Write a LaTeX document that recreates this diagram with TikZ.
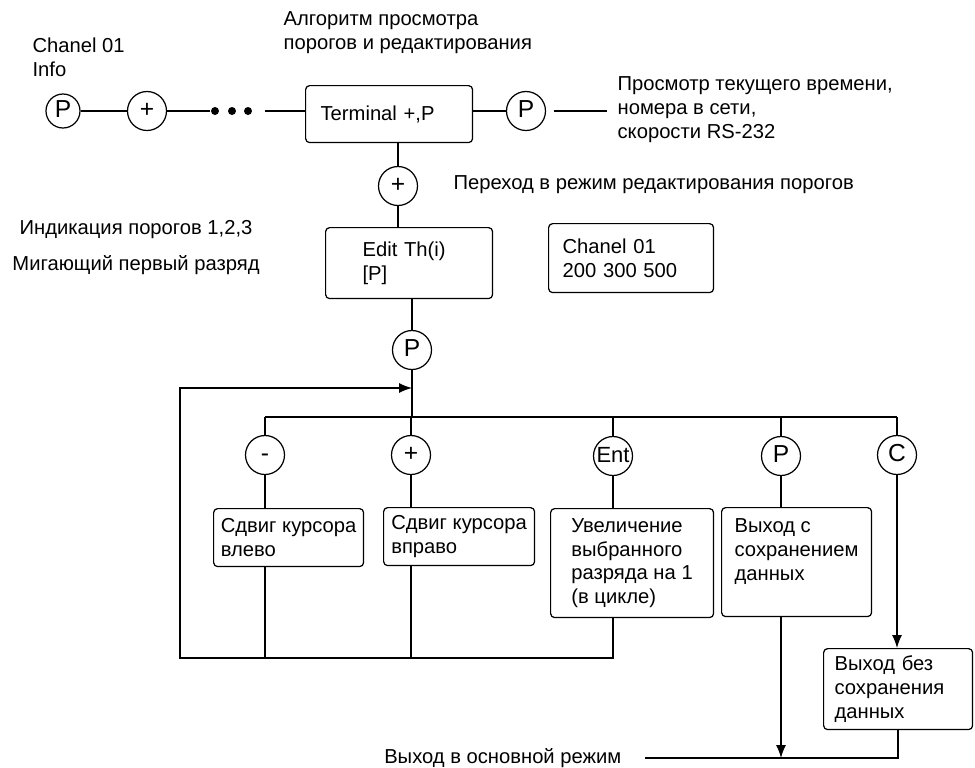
\documentclass[tikz,border=0pt]{standalone}
\usepackage{fontspec}
\setmainfont{Liberation Sans}
\usetikzlibrary{arrows.meta,positioning,calc}
\tikzset{
	btn/.style={draw,circle,inner sep=0pt,minimum size=0.78cm,font=\fontsize{14pt}{16pt}\selectfont,text height=0.72em,text depth=0pt},
	menubox/.style={draw,rounded corners=2.3pt,align=left,anchor=north west,inner ysep=0pt},
	lbl/.style={inner sep=0pt,align=left,anchor=north west},
	dot/.style={circle,fill,inner sep=0pt,minimum size=0.16cm},
	arr/.style={-{Latex[length=0.26cm,width=0.2cm]}},
}

\begin{document}
\begin{tikzpicture}[x=0.02cm,y=-0.02cm,line width=0.7pt,font=\fontsize{11.5pt}{13.6pt}\selectfont]
\useasboundingbox (0,0) rectangle (975,768);

% top row
\node[lbl] (lblChanel) at (32,37) {Chanel 01\\Info};
\node[lbl] (lblTitle) at (283,11) {Алгоритм просмотра\\порогов и редактирования};
\node[btn,minimum size=0.68cm] (cP1) at (63,111) {P};
\node[btn] (cPl1) at (147,111) {+};
\node[dot] (d1) at (215,111) {};
\node[dot] (d2) at (232,111) {};
\node[dot] (d3) at (248,111) {};
\node[menubox,minimum height=1.14cm,text width=2.74cm,inner xsep=0.3cm] (bTerm) at (305,85) {Terminal +,P};
\node[btn] (cP2) at (526,111) {P};
\coordinate (tTime) at (607,111);
\node[lbl] (lblTime) at (617,76) {Просмотр текущего времени,\\номера в сети,\\скорости RS-232};
\draw (cP1) -- (cPl1);
\draw (cPl1) -- (d1);
\draw[shorten <=0.24cm] (d3) -- (d3 -| bTerm.west);
\draw (bTerm.east |- cP2) -- (cP2);
\draw[shorten <=0.16cm] (cP2) -- (tTime);

% edit mode
\node[btn] (cPl2) at (398,186) {+};
\node[lbl] (lblEditMode) at (453,175) {Переход в режим редактирования порогов};
\node[lbl,anchor=north,align=center] (lblInd) at (136,220) {Индикация порогов 1,2,3\\[6.8pt]Мигающий первый разряд};
\node[menubox,minimum height=1.42cm,text width=1.86cm,inner xsep=0.74cm] (bEdit) at (325,227) {Edit Th(i)\\{[P]}};
\node[menubox,minimum height=1.38cm,text width=2.74cm,inner xsep=0.28cm] (bChan) at (548,223) {Chanel 01\\200 300 500};
\node[btn] (cP4) at (412,350) {P};
\draw (cPl2 |- bTerm.south) -- (cPl2);
\draw (cPl2) -- (cPl2 |- bEdit.north);
\draw (cP4 |- bEdit.south) -- (cP4);

% keys
\coordinate (bus) at (412,417);
\coordinate (ret) at (412,388);
\coordinate (loopL) at (180,658);
\coordinate (exitL) at (645,758);
\node[btn] (cMinus) at (265,455) {-};
\node[btn] (cPl3) at (411,455) {+};
\node[btn,font=\fontsize{12.5pt}{14pt}\selectfont] (cEnt) at (613,456) {Ent};
\node[btn] (cP3) at (781,456) {P};
\node[btn] (cC) at (897,455) {C};
\draw (cP4) -- (bus);
\draw (cMinus |- bus) -- (cC |- bus);
\foreach \c in {cMinus,cPl3,cEnt,cP3,cC}
	\draw (\c |- bus) -- (\c);

% actions
\node[menubox,minimum width=3cm,minimum height=1.16cm] (bLeft) at (213,508) {Сдвиг курсора\\влево};
\node[menubox,minimum width=3.02cm,minimum height=1.16cm] (bRight) at (383,507) {Сдвиг курсора\\вправо};
\node[menubox,minimum width=3.26cm,minimum height=2.18cm] (bInc) at (550,508) {Увеличение\\выбранного\\разряда на 1\\(в цикле)};
\node[menubox,minimum width=3cm,minimum height=2.18cm,text depth=0.5cm] (bSave) at (721,507) {Выход с\\сохранением\\данных};
\node[menubox,minimum height=1.62cm,text width=2.54cm,inner xsep=0.22cm] (bNoSave) at (823,648) {Выход без\\сохранения\\данных};
\node[lbl,anchor=base east] (lblExit) at (622,763) {Выход в основной режим};

\draw (cMinus) -- (cMinus |- bLeft.north);
\draw (cPl3) -- (cPl3 |- bRight.north);
\draw (cEnt) -- (cEnt |- bInc.north);
\draw (cP3) -- (cP3 |- bSave.north);
\draw[arr] (cC) -- (cC |- bNoSave.north);
\draw (cMinus |- bLeft.south) -- (cMinus |- loopL);
\draw (cPl3 |- bRight.south) -- (cPl3 |- loopL);
\draw[arr] (cEnt |- bInc.south) |- (loopL) |- (ret);
\draw[arr] (cP3 |- bSave.south) -- (cP3 |- exitL);
\draw (bNoSave.south) |- (exitL);
\end{tikzpicture}
\end{document}
